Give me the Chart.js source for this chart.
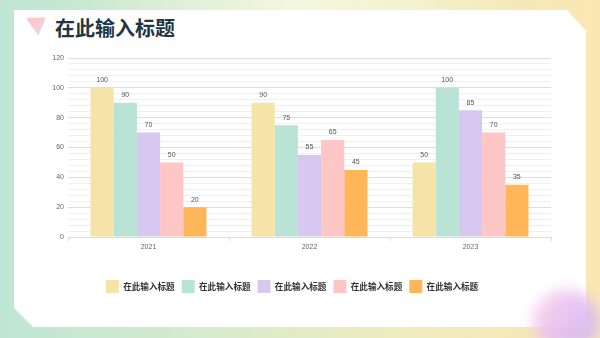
<!DOCTYPE html>
<html>
<head>
<meta charset="utf-8">
<title>在此输入标题</title>
<script src="https://cdn.jsdelivr.net/npm/chart.js"></script>
<style>
  html, body { margin: 0; padding: 0; }
  body {
    width: 600px; height: 338px; position: relative; overflow: hidden;
    background:
      radial-gradient(ellipse at 300px 0px, rgba(255,255,240,0.6) 0, rgba(255,255,240,0) 220px),
      linear-gradient(90deg, #bfe6d4 0%, #d6ebcc 35%, #eeecc0 65%, #fbe7b2 100%);
  }
  .card {
    position: absolute; left: 14px; top: 10px; width: 572px; height: 317px;
    background: #fff;
    clip-path: polygon(0 0, 553px 0, 572px 21px, 572px 317px, 19px 317px, 0 298px);
  }
  .blob {
    position: absolute; left: 532px; top: 290px; width: 68px; height: 62px; border-radius: 50%;
    background: linear-gradient(120deg, #fbd6ea 0%, #e6bdf0 50%, #c7b9f6 100%);
    filter: blur(7px); opacity: 0.9;
  }
  .icon {
    position: absolute; left: 26px; top: 17px; width: 20px; height: 19px;
    background: linear-gradient(160deg, #ffada5 0%, #f2bccb 50%, #d4d0f2 100%);
    clip-path: polygon(0 5%, 100% 0, 62% 100%);
    filter: blur(0.8px); opacity: 0.75;
  }
  h1 {
    position: absolute; left: 55px; top: 15px; margin: 0;
    font-family: "Noto Sans CJK SC", sans-serif; font-weight: 700;
    font-size: 20px; line-height: 26px; color: #1f3646;
  }
  #wrap { position: absolute; left: 33px; top: 40px; width: 540px; height: 280px; }
</style>
</head>
<body>
<div class="card"></div>
<div class="blob"></div>
<div class="icon"></div>
<h1>在此输入标题</h1>
<div id="wrap"><canvas id="barChart"></canvas></div>

<script>
const years = ['2021', '2022', '2023'];
const seriesNames = ['在此输入标题', '在此输入标题', '在此输入标题', '在此输入标题', '在此输入标题'];
const series1 = [100, 90, 50];
const series2 = [90, 75, 100];
const series3 = [70, 55, 85];
const series4 = [50, 65, 70];
const series5 = [20, 45, 35];
const colors = ['#f5e3a7', '#b9e4d5', '#d8c7ef', '#ffc6c6', '#ffb658'];

const allSeries = [series1, series2, series3, series4, series5];

// draws the value above each bar
const valueLabels = {
  id: 'valueLabels',
  afterDatasetsDraw(chart) {
    const ctx = chart.ctx;
    ctx.save();
    ctx.font = '7px "Liberation Sans", Arial, sans-serif';
    ctx.fillStyle = '#555';
    ctx.textAlign = 'center';
    ctx.textBaseline = 'bottom';
    chart.data.datasets.forEach((ds, i) => {
      chart.getDatasetMeta(i).data.forEach((bar, j) => {
        ctx.fillText(ds.data[j], bar.x, bar.y - 4);
      });
    });
    ctx.restore();
  }
};

new Chart(document.getElementById('barChart'), {
  type: 'bar',
  data: {
    labels: years,
    datasets: allSeries.map((d, i) => ({
      label: seriesNames[i],
      data: d,
      backgroundColor: colors[i],
      borderWidth: 0,
      barPercentage: 1,
      categoryPercentage: 0.72
    }))
  },
  options: {
    responsive: true,
    maintainAspectRatio: false,
    animation: false,
    layout: { padding: { top: 18, right: 22, bottom: 17, left: 0 } },
    plugins: {
      legend: {
        position: 'bottom',
        labels: {
          boxWidth: 13, boxHeight: 13, padding: 7,
          color: '#333',
          font: { family: '"Noto Sans CJK SC", sans-serif', size: 8.6, weight: 'bold' }
        }
      },
      tooltip: { enabled: false }
    },
    scales: {
      x: {
        afterFit: s => { s.height = 36; },
        grid: { drawOnChartArea: false, tickLength: 4, color: '#ddd' },
        border: { color: '#ddd' },
        ticks: { color: '#666', font: { size: 7 }, padding: 2 }
      },
      y: {
        min: 0, max: 120,
        afterFit: s => { s.width = 35; },
        ticks: {
          stepSize: 4, autoSkip: false, color: '#666', font: { size: 7 }, padding: 4,
          callback: v => (v % 20 === 0 ? v : '')
        },
        grid: {
          drawTicks: false,
          color: c => (c.tick && c.tick.value % 20 === 0 ? '#dedede' : '#f0f0f0')
        },
        border: { display: false }
      }
    }
  },
  plugins: [valueLabels]
});
</script>
</body>
</html>
